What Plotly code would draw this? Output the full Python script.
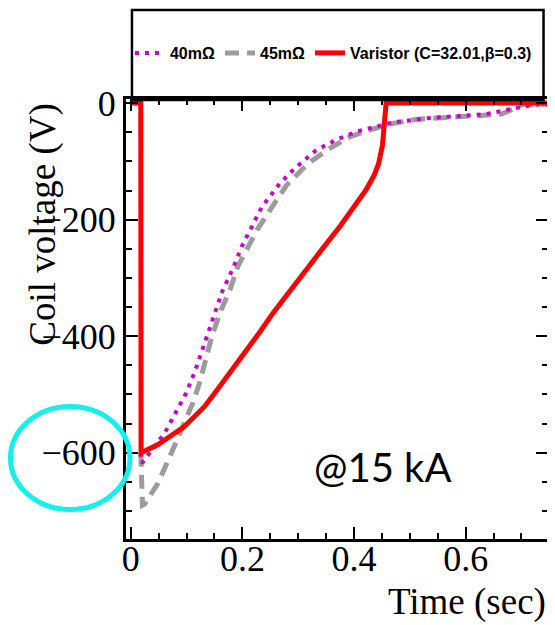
import plotly.graph_objects as go

# ---- data ----
t_40 = [0.018, 0.020, 0.061, 0.081, 0.099, 0.114, 0.132, 0.146, 0.164, 0.182,
        0.199, 0.217, 0.235, 0.267, 0.294, 0.332, 0.368, 0.405, 0.446, 0.470,
        0.532, 0.594, 0.635, 0.673, 0.694, 0.72, 0.75]
v_40 = [-600, -618, -566, -532, -498, -463, -412, -375, -323, -286,
        -246, -212, -178, -138, -112, -81, -63, -49, -38, -33,
        -26, -21, -19, -12, -8, -3, -2]

t_45 = [0.018, 0.021, 0.025, 0.049, 0.078, 0.096, 0.111, 0.123, 0.135, 0.146,
        0.162, 0.178, 0.192, 0.208, 0.226, 0.250, 0.279, 0.309, 0.326, 0.356,
        0.392, 0.429, 0.464, 0.511, 0.564, 0.635, 0.664, 0.688, 0.700, 0.75]
v_45 = [-600, -690, -688, -652, -589, -549, -515, -481, -438, -398,
        -355, -320, -280, -252, -218, -183, -141, -112, -98, -78,
        -58, -46, -36, -28, -25, -21, -19, -9, -3, -2]

t_var = [0.0, 0.018, 0.0185, 0.049, 0.096, 0.132, 0.155, 0.186, 0.213, 0.232,
         0.255, 0.280, 0.314, 0.345, 0.376, 0.402, 0.422, 0.436, 0.444, 0.451,
         0.455, 0.4575, 0.55, 0.65, 0.75]
v_var = [0, 0, -600, -586, -555, -521, -492, -453, -417, -392,
         -360, -328, -286, -248, -210, -175, -148, -124, -104, -72,
         -30, 0, 0, 0, 0]

names = ["40m\u03a9", "45m\u03a9", "Varistor (C=32.01,\u03b2=0.3)"]
x_ticks = [0, 0.2, 0.4, 0.6]
x_labels = ["0", "0.2", "0.4", "0.6"]
y_ticks = [0, -200, -400, -600]

# page is drawn with an 8px body margin; work in page pixels
OFF = 8
PAGE_W, PAGE_H = 555, 625
W, H = PAGE_W - OFF, PAGE_H - OFF
# plot area in page pixels
P_L, P_R, P_T, P_B = 126, 551.5, 99, 539
L, R, T, B = P_L - OFF, W - (P_R - OFF), P_T - OFF, H - (P_B - OFF)
pw, ph = W - L - R, H - T - B


def px(x):
    return (x - OFF - L) / pw


def py(y):
    return (H - B - (y - OFF)) / ph


fig = go.Figure()
fig.add_trace(go.Scatter(x=t_45, y=v_45, mode="lines", name=names[1], legendrank=2,
                         line=dict(color="#9c9c9c", width=5, dash="14px,8px")))
fig.add_trace(go.Scatter(x=t_40, y=v_40, mode="lines", name=names[0], legendrank=1,
                         line=dict(color="#cc00cc", width=4, dash="4px,6px")))
fig.add_trace(go.Scatter(x=t_var, y=v_var, mode="lines", name=names[2], legendrank=3,
                         line=dict(color="#ff0000", width=5)))

serif = "Liberation Serif"
axis_common = dict(
    showline=True, linecolor="black", linewidth=3, mirror="allticks",
    ticks="inside", ticklen=12, tickwidth=2, tickcolor="black",
    showgrid=False, zeroline=False,
    tickfont=dict(family=serif, size=36, color="black"),
)

fig.update_xaxes(range=[-0.0085, 0.7475], tickvals=x_ticks, ticktext=x_labels,
                 ticklabelstandoff=-14,
                 minor=dict(dtick=0.05, tick0=0, ticks="inside", ticklen=6,
                            tickwidth=2, tickcolor="black"),
                 **axis_common)
fig.update_yaxes(range=[-748, 7], tickvals=y_ticks,
                 minor=dict(dtick=50, tick0=0, ticks="inside", ticklen=6,
                            tickwidth=2, tickcolor="black"),
                 **axis_common)

fig.update_layout(
    width=W, height=H, autosize=False,
    margin=dict(l=L, r=R, t=T, b=B, pad=0),
    plot_bgcolor="white", paper_bgcolor="white",
    showlegend=True,
    legend=dict(orientation="h", x=px(130), y=py(53), xanchor="left", yanchor="middle",
                bgcolor="rgba(0,0,0,0)", borderwidth=0,
                font=dict(family="Liberation Sans", size=16, color="black", weight="bold"),
                itemwidth=30, tracegroupgap=0),
    shapes=[
        dict(type="rect", xref="paper", yref="paper",
             x0=px(132), x1=px(547), y0=py(100), y1=py(10),
             line=dict(color="black", width=2.5), fillcolor="rgba(0,0,0,0)"),
        dict(type="circle", xref="paper", yref="paper",
             x0=px(9.5), x1=px(130), y0=py(509.5), y1=py(406.5),
             line=dict(color="#14f0f0", width=5), fillcolor="rgba(0,0,0,0)"),
    ],
    annotations=[
        dict(text="Coil voltage (V)", textangle=-90, xref="paper", yref="paper",
             x=px(42), y=py(224), xanchor="center", yanchor="middle", showarrow=False,
             font=dict(family=serif, size=37, color="black")),
        dict(text="Time (sec)", xref="paper", yref="paper",
             x=px(551), y=py(602), xanchor="right", yanchor="middle", showarrow=False,
             font=dict(family=serif, size=37, color="black")),
        dict(text="@15 kA", xref="paper", yref="paper",
             x=px(385), y=py(467), xanchor="center", yanchor="middle", showarrow=False,
             font=dict(family="Lato", size=40, color="black")),
    ],
)

fig.write_html("out.html")
